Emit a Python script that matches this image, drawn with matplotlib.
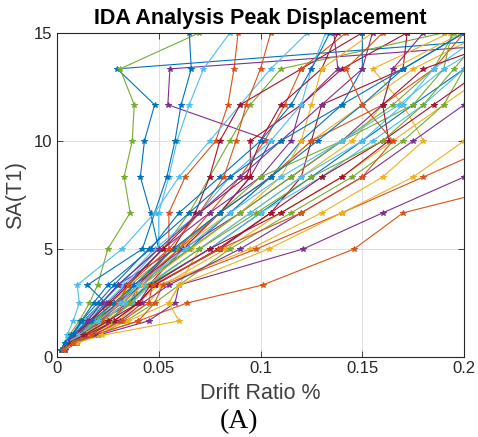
import matplotlib
matplotlib.use("Agg")
import matplotlib.pyplot as plt
import numpy as np

# Spectral acceleration levels (y) shared by all IDA curves
sa_levels = [0.33, 0.67, 1.0, 1.67, 2.5, 3.33, 5.0, 6.67, 8.33, 10.0, 11.67, 13.33, 15.0]

# Peak drift ratio (%) of each record at each SA level
drift_records = [
    [0.002, 0.004, 0.007, 0.013, 0.022, 0.030, 0.050, 0.046, 0.041, 0.043, 0.048, 0.0296, 0.26],
    [0.003, 0.006, 0.010, 0.020, 0.030, 0.040, 0.055, 0.055, 0.063, 0.078, 0.084, 0.087, 0.089],
    [0.002, 0.005, 0.009, 0.016, 0.026, 0.038, 0.060, 0.085, 0.105, 0.125, 0.150, 0.175, 0.210],
    [0.003, 0.007, 0.012, 0.025, 0.022, 0.030, 0.058, 0.080, 0.095, 0.105, 0.0545, 0.0555, 0.30],
    [0.002, 0.004, 0.006, 0.011, 0.016, 0.020, 0.025, 0.036, 0.033, 0.037, 0.038, 0.031, 0.070],
    [0.002, 0.005, 0.009, 0.014, 0.024, 0.033, 0.050, 0.050, 0.055, 0.059, 0.065, 0.072, 0.085],
    [0.003, 0.008, 0.014, 0.022, 0.035, 0.045, 0.062, 0.080, 0.095, 0.095, 0.120, 0.140, 0.172],
    [0.002, 0.004, 0.008, 0.016, 0.024, 0.015, 0.042, 0.048, 0.054, 0.058, 0.061, 0.066, 0.065],
    [0.004, 0.010, 0.018, 0.040, 0.064, 0.101, 0.146, 0.170, 0.240, 0.300, 0.350, 0.400, 0.450],
    [0.003, 0.008, 0.015, 0.030, 0.045, 0.052, 0.083, 0.110, 0.140, 0.165, 0.190, 0.215, 0.240],
    [0.004, 0.010, 0.020, 0.045, 0.058, 0.060, 0.121, 0.160, 0.200, 0.240, 0.280, 0.320, 0.360],
    [0.002, 0.005, 0.010, 0.018, 0.030, 0.035, 0.052, 0.065, 0.075, 0.085, 0.095, 0.110, 0.190],
    [0.002, 0.004, 0.005, 0.008, 0.011, 0.010, 0.032, 0.048, 0.060, 0.075, 0.090, 0.105, 0.123],
    [0.003, 0.007, 0.012, 0.025, 0.036, 0.040, 0.057, 0.068, 0.075, 0.080, 0.090, 0.120, 0.150],
    [0.002, 0.006, 0.011, 0.022, 0.034, 0.045, 0.075, 0.100, 0.125, 0.150, 0.175, 0.200, 0.230],
    [0.003, 0.007, 0.013, 0.021, 0.032, 0.042, 0.060, 0.075, 0.090, 0.102, 0.112, 0.120, 0.142],
    [0.003, 0.008, 0.015, 0.030, 0.040, 0.050, 0.095, 0.130, 0.160, 0.180, 0.170, 0.155, 0.193],
    [0.002, 0.005, 0.009, 0.017, 0.025, 0.034, 0.052, 0.075, 0.100, 0.115, 0.120, 0.138, 0.136],
    [0.003, 0.009, 0.020, 0.034, 0.048, 0.060, 0.085, 0.115, 0.145, 0.170, 0.190, 0.200, 0.230],
    [0.002, 0.005, 0.008, 0.014, 0.022, 0.031, 0.048, 0.070, 0.085, 0.105, 0.120, 0.125, 0.132],
    [0.003, 0.008, 0.016, 0.028, 0.040, 0.048, 0.080, 0.105, 0.120, 0.125, 0.130, 0.170, 0.172],
    [0.003, 0.006, 0.011, 0.022, 0.030, 0.042, 0.065, 0.085, 0.105, 0.120, 0.140, 0.150, 0.150],
    [0.003, 0.007, 0.011, 0.020, 0.038, 0.040, 0.060, 0.080, 0.105, 0.125, 0.160, 0.185, 0.200],
    [0.003, 0.008, 0.016, 0.035, 0.055, 0.060, 0.070, 0.095, 0.120, 0.145, 0.160, 0.165, 0.199],
    [0.002, 0.006, 0.012, 0.019, 0.030, 0.038, 0.062, 0.090, 0.115, 0.140, 0.160, 0.165, 0.180],
    [0.002, 0.005, 0.010, 0.020, 0.026, 0.036, 0.058, 0.080, 0.100, 0.140, 0.175, 0.190, 0.194],
    [0.003, 0.007, 0.014, 0.025, 0.037, 0.046, 0.075, 0.100, 0.130, 0.155, 0.180, 0.200, 0.220],
    [0.002, 0.005, 0.009, 0.016, 0.026, 0.035, 0.052, 0.070, 0.093, 0.100, 0.110, 0.130, 0.138],
    [0.002, 0.004, 0.008, 0.012, 0.018, 0.025, 0.046, 0.060, 0.080, 0.100, 0.115, 0.125, 0.134],
    [0.003, 0.009, 0.018, 0.040, 0.048, 0.052, 0.098, 0.140, 0.180, 0.220, 0.260, 0.300, 0.340],
    [0.002, 0.006, 0.012, 0.024, 0.033, 0.042, 0.066, 0.090, 0.110, 0.120, 0.125, 0.130, 0.155],
    [0.003, 0.008, 0.018, 0.031, 0.042, 0.055, 0.090, 0.120, 0.150, 0.175, 0.200, 0.220, 0.250],
    [0.002, 0.006, 0.011, 0.018, 0.028, 0.040, 0.065, 0.090, 0.115, 0.140, 0.165, 0.185, 0.195],
    [0.002, 0.005, 0.010, 0.022, 0.034, 0.044, 0.070, 0.095, 0.120, 0.150, 0.170, 0.185, 0.210],
    [0.003, 0.007, 0.014, 0.028, 0.040, 0.048, 0.079, 0.105, 0.130, 0.160, 0.185, 0.210, 0.235],
    [0.002, 0.006, 0.010, 0.017, 0.028, 0.038, 0.057, 0.080, 0.105, 0.128, 0.150, 0.170, 0.200],
    [0.002, 0.005, 0.010, 0.022, 0.030, 0.035, 0.055, 0.070, 0.082, 0.088, 0.093, 0.100, 0.105],
    [0.003, 0.010, 0.022, 0.060, 0.055, 0.060, 0.104, 0.140, 0.175, 0.200, 0.230, 0.260, 0.290],
    [0.002, 0.005, 0.008, 0.015, 0.022, 0.030, 0.050, 0.070, 0.090, 0.110, 0.130, 0.150, 0.155],
    [0.003, 0.007, 0.013, 0.026, 0.036, 0.045, 0.070, 0.098, 0.125, 0.160, 0.180, 0.195, 0.210],
    [0.002, 0.005, 0.011, 0.020, 0.031, 0.040, 0.063, 0.085, 0.110, 0.140, 0.168, 0.190, 0.220],
    [0.002, 0.006, 0.013, 0.025, 0.040, 0.046, 0.075, 0.110, 0.140, 0.163, 0.160, 0.180, 0.230],
    [0.002, 0.004, 0.007, 0.012, 0.020, 0.028, 0.045, 0.065, 0.085, 0.110, 0.140, 0.170, 0.200],
    [0.003, 0.008, 0.017, 0.032, 0.045, 0.047, 0.080, 0.120, 0.150, 0.165, 0.150, 0.142, 0.160],
]

matlab_colors = ["#0072BD", "#D95319", "#EDB120", "#7E2F8E", "#77AC30", "#4DBEEE", "#A2142F"]

x_ticks = [0, 0.05, 0.1, 0.15, 0.2]
x_tick_labels = ["0", "0.05", "0.1", "0.15", "0.2"]
y_ticks = [0, 5, 10, 15]
y_tick_labels = ["0", "5", "10", "15"]

plt.rcParams["font.family"] = ["Liberation Sans", "DejaVu Sans"]

fig = plt.figure(figsize=(4.78, 4.37), dpi=100)
ax = fig.add_axes([0.119, 0.183, 0.852, 0.742])

for i, rec in enumerate(drift_records):
    ax.plot(rec, sa_levels, "-*", color=matlab_colors[i % 7], lw=0.8,
            markersize=4, markeredgewidth=0.7, clip_on=True)

ax.set_xlim(0, 0.2)
ax.set_ylim(0, 15)
ax.set_xticks(x_ticks)
ax.set_xticklabels(x_tick_labels)
ax.set_yticks(y_ticks)
ax.set_yticklabels(y_tick_labels)
ax.grid(True, color="#d9d9d9", lw=0.6)
ax.set_axisbelow(True)
ax.tick_params(direction="in", top=True, right=True, length=4, width=0.6,
               labelsize=12, colors="#262626", pad=3)
for s in ax.spines.values():
    s.set_color("#262626")
    s.set_linewidth(0.8)

ax.set_title("IDA Analysis Peak Displacement", fontsize=15.5, fontweight="bold", pad=6.5)
ax.set_xlabel("Drift Ratio %", fontsize=15.5, color="#404040", labelpad=5)
ax.set_ylabel("SA(T1)", fontsize=15.5, color="#404040", labelpad=6)
fig.text(0.5, 0.036, "(A)", ha="center", va="center", fontsize=20,
         family=["Liberation Serif", "DejaVu Serif"])

fig.savefig("out.png", dpi=100)
